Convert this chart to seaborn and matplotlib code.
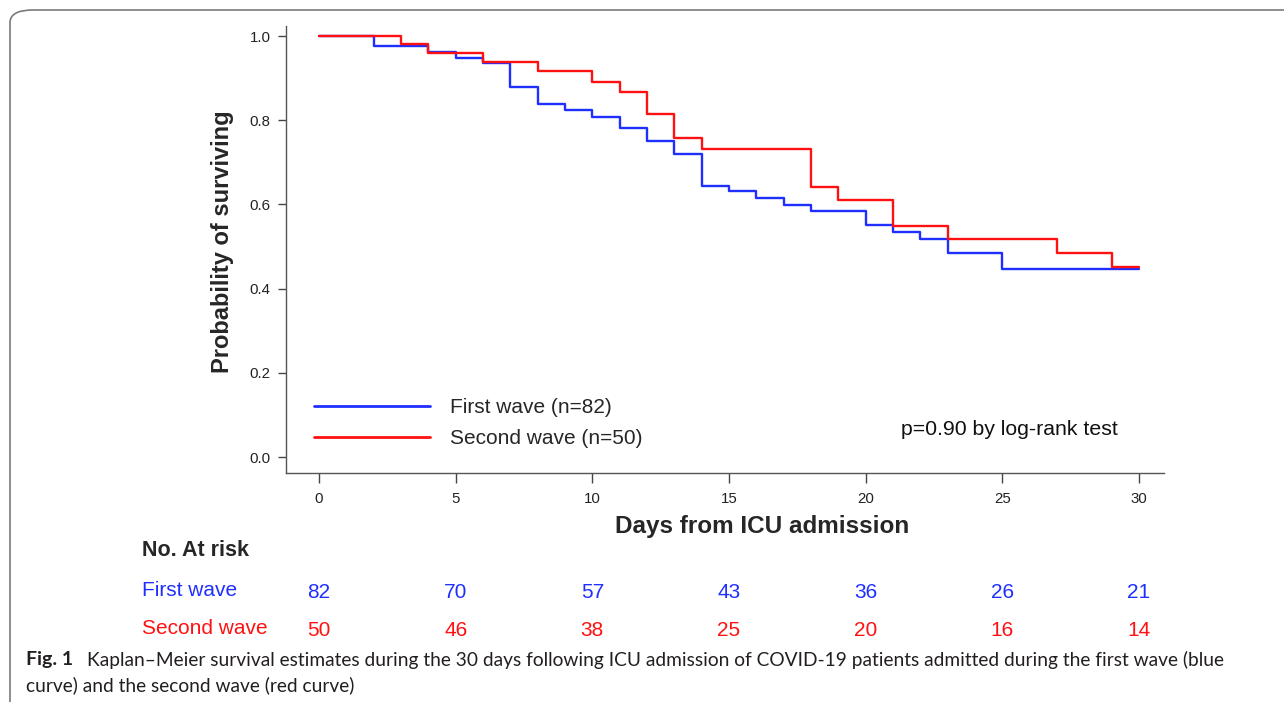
import matplotlib
matplotlib.use("Agg")
import matplotlib.pyplot as plt
import numpy as np
import pandas as pd
import seaborn as sns
from matplotlib.patches import FancyBboxPatch

# Kaplan-Meier step values
first_days = [0, 2, 4, 5, 6, 7, 8, 9, 10, 11, 12, 13, 14, 15, 16, 17, 18, 20, 21, 22, 23, 25, 30]
first_surv = [1.0, 0.976, 0.962, 0.949, 0.935, 0.879, 0.838, 0.824, 0.808, 0.781, 0.750, 0.720,
              0.645, 0.631, 0.615, 0.599, 0.584, 0.551, 0.534, 0.518, 0.484, 0.447, 0.447]
second_days = [0, 3, 4, 6, 8, 10, 11, 12, 13, 14, 18, 19, 21, 23, 27, 29, 30]
second_surv = [1.0, 0.981, 0.961, 0.939, 0.916, 0.892, 0.868, 0.815, 0.759, 0.732, 0.641,
               0.610, 0.549, 0.518, 0.485, 0.452, 0.452]

groups = ["First wave (n=82)", "Second wave (n=50)"]
colors = ["#1f2fff", "#ff1111"]

risk_times = [0, 5, 10, 15, 20, 25, 30]
risk_first = [82, 70, 57, 43, 36, 26, 21]
risk_second = [50, 46, 38, 25, 20, 16, 14]

df = pd.concat([
    pd.DataFrame({"day": first_days, "surv": first_surv, "group": groups[0]}),
    pd.DataFrame({"day": second_days, "surv": second_surv, "group": groups[1]}),
])

sns.set_style("ticks")
plt.rcParams["font.family"] = ["Liberation Sans", "DejaVu Sans"]

W, H = 1284, 702
fig = plt.figure(figsize=(W / 100, H / 100), dpi=100)


def fx(px):
    return px / W


def fy(py):
    return 1 - py / H


# rounded frame of the figure panel
frame = FancyBboxPatch((fx(10), fy(760)), fx(1400), fy(10) - fy(760),
                       boxstyle="round,pad=0,rounding_size=0.018",
                       transform=fig.transFigure, fill=False,
                       edgecolor="#7a7a7a", linewidth=1.2, clip_on=False)
fig.patches.append(frame)

ax = fig.add_axes([fx(286), fy(473), fx(1164) - fx(286), fy(26) - fy(473)])
sns.lineplot(data=df, x="day", y="surv", hue="group", palette=colors,
             drawstyle="steps-post", estimator=None, linewidth=1.7, ax=ax)

ax.set_xlim(-1.21, 30.92)
ax.set_ylim(-0.038, 1.024)
ax.set_xticks(risk_times)
ax.set_yticks([0, 0.2, 0.4, 0.6, 0.8, 1.0])
ax.set_yticklabels(["0.0", "0.2", "0.4", "0.6", "0.8", "1.0"])
ax.tick_params(axis="both", labelsize=10.8, colors="#444444", labelcolor="#222222",
               width=1.0)
ax.tick_params(axis="y", length=6, pad=5)
ax.tick_params(axis="x", length=7, pad=7)
for s in ["left", "bottom"]:
    ax.spines[s].set_color("#555555")
    ax.spines[s].set_linewidth(1.0)
sns.despine(ax=ax)

ax.set_xlabel("")
ax.set_ylabel("Probability of surviving", fontsize=17, fontweight="bold")
ax.yaxis.set_label_coords(-0.059, 0.518)

leg = ax.legend(loc="upper left", bbox_to_anchor=(0.01, 0.21), frameon=False,
                fontsize=15, handlelength=5.6, handletextpad=0.95, labelspacing=0.6)
for line in leg.get_lines():
    line.set_linewidth(2.0)

ax.text(0.70, 0.098, "p=0.90 by log-rank test", transform=ax.transAxes,
        fontsize=15.3, ha="left", va="center", color="#111111")

fig.text(fx(762), fy(527), "Days from ICU admission", fontsize=17.5, fontweight="bold",
         ha="center", va="center")

# number at risk table
fig.text(fx(142), fy(550), "No. At risk", fontsize=15.5, fontweight="bold",
         ha="left", va="center")
fig.text(fx(142), fy(590), "First wave", fontsize=15, color=colors[0],
         ha="left", va="center")
fig.text(fx(142), fy(629), "Second wave", fontsize=15, color=colors[1],
         ha="left", va="center")
for t, a, b in zip(risk_times, risk_first, risk_second):
    xf = fig.transFigure.inverted().transform(ax.transData.transform((t, 0)))[0]
    fig.text(xf, fy(592), str(a), fontsize=15, color=colors[0], ha="center", va="center")
    fig.text(xf, fy(631), str(b), fontsize=15, color=colors[1], ha="center", va="center")

# caption
cap_font = ["Lato", "DejaVu Sans"]
cap_color = "#231f20"
fig.text(fx(26), fy(660), "Fig. 1", fontsize=14, fontweight="bold", family=cap_font,
         ha="left", va="center", color=cap_color)
fig.text(fx(87), fy(660),
         "Kaplan\u2013Meier survival estimates during the 30 days following ICU admission of "
         "COVID-19 patients admitted during the first wave (blue",
         fontsize=13.8, family=cap_font, ha="left", va="center", color=cap_color)
fig.text(fx(26), fy(685), "curve) and the second wave (red curve)", fontsize=13.8,
         family=cap_font, ha="left", va="center", color=cap_color)

fig.savefig("out.png", dpi=100)
